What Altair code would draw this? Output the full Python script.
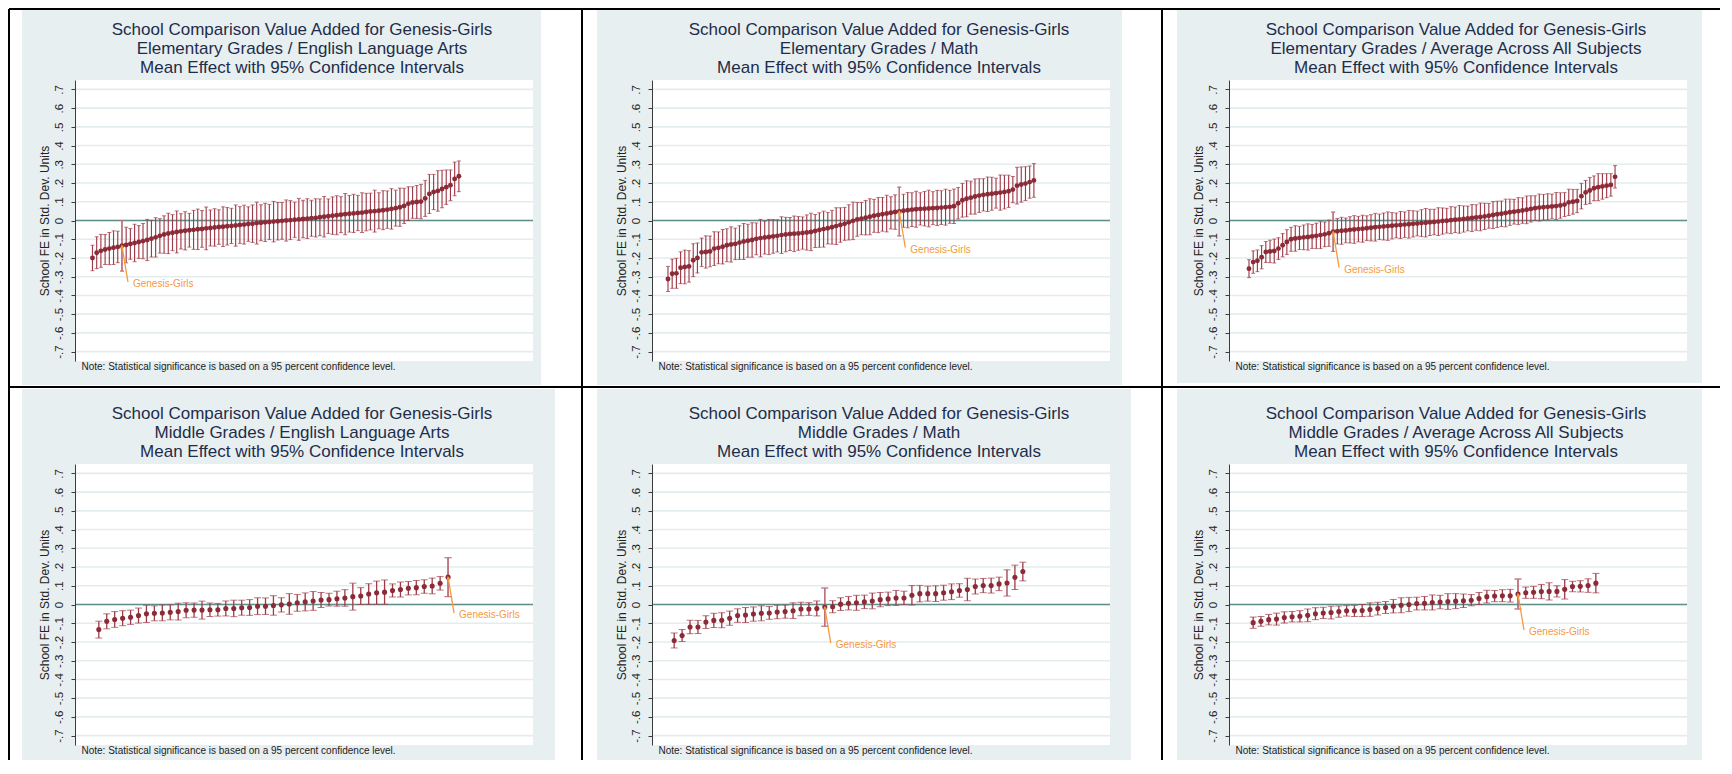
import altair as alt
import pandas as pd

FONT = "Liberation Sans"
TITLE_TOP = "School Comparison Value Added for Genesis-Girls"
SUBTITLES = [
    "Elementary Grades / English Language Arts",
    "Elementary Grades / Math",
    "Elementary Grades / Average Across All Subjects",
    "Middle Grades / English Language Arts",
    "Middle Grades / Math",
    "Middle Grades / Average Across All Subjects",
]
TITLE_BOTTOM = "Mean Effect with 95% Confidence Intervals"
NOTE = "Note: Statistical significance is based on a 95 percent confidence level."
Y_TITLE = "School FE in Std. Dev. Units"
LABEL = "Genesis-Girls"
Y_TICKS = [round(k / 10, 1) for k in range(-7, 8)]

# ---------------- data ----------------
elem_ela_mean = [
    -0.200, -0.172, -0.162, -0.155, -0.150, -0.145, -0.141, -0.135, -0.131, -0.125,
    -0.120, -0.115, -0.110, -0.104, -0.097, -0.090, -0.082, -0.075, -0.069, -0.065,
    -0.061, -0.058, -0.055, -0.052, -0.050, -0.047, -0.045, -0.042, -0.040, -0.037,
    -0.035, -0.033, -0.031, -0.029, -0.027, -0.024, -0.022, -0.019, -0.017, -0.014,
    -0.012, -0.010, -0.008, -0.006, -0.004, -0.002, 0.000, 0.002, 0.004, 0.006,
    0.008, 0.010, 0.012, 0.014, 0.017, 0.020, 0.023, 0.026, 0.028, 0.031,
    0.034, 0.036, 0.038, 0.040, 0.042, 0.045, 0.048, 0.050, 0.052, 0.055,
    0.058, 0.062, 0.066, 0.071, 0.078, 0.090, 0.096, 0.099, 0.101, 0.118,
    0.142, 0.152, 0.158, 0.168, 0.178, 0.188, 0.222, 0.236]
elem_ela_hw = [
    0.068, 0.085, 0.088, 0.080, 0.086, 0.090, 0.084, 0.135, 0.095, 0.082,
    0.100, 0.088, 0.094, 0.110, 0.098, 0.105, 0.092, 0.100, 0.108, 0.096,
    0.112, 0.094, 0.102, 0.090, 0.104, 0.108, 0.098, 0.114, 0.096, 0.100,
    0.092, 0.106, 0.100, 0.094, 0.110, 0.098, 0.104, 0.092, 0.100, 0.112,
    0.096, 0.102, 0.094, 0.108, 0.100, 0.098, 0.110, 0.104, 0.094, 0.112,
    0.100, 0.106, 0.096, 0.102, 0.098, 0.108, 0.092, 0.100, 0.104, 0.096,
    0.110, 0.098, 0.102, 0.094, 0.106, 0.100, 0.098, 0.112, 0.096, 0.104,
    0.100, 0.108, 0.096, 0.102, 0.094, 0.090, 0.084, 0.088, 0.092, 0.096,
    0.104, 0.094, 0.108, 0.100, 0.092, 0.082, 0.090, 0.082]

elem_math_mean = [
    -0.312, -0.284, -0.282, -0.252, -0.248, -0.245, -0.212, -0.200, -0.170, -0.168,
    -0.165, -0.150, -0.146, -0.140, -0.132, -0.128, -0.125, -0.118, -0.112, -0.108,
    -0.104, -0.098, -0.094, -0.091, -0.088, -0.085, -0.082, -0.078, -0.075, -0.072,
    -0.071, -0.069, -0.067, -0.064, -0.061, -0.056, -0.051, -0.046, -0.041, -0.036,
    -0.030, -0.024, -0.018, -0.010, -0.002, 0.006, 0.010, 0.015, 0.020, 0.025,
    0.029, 0.033, 0.037, 0.041, 0.045, 0.048, 0.052, 0.055, 0.058, 0.060,
    0.062, 0.063, 0.064, 0.066, 0.067, 0.069, 0.071, 0.073, 0.076, 0.092,
    0.108, 0.116, 0.122, 0.128, 0.133, 0.137, 0.140, 0.143, 0.146, 0.149,
    0.152, 0.156, 0.165, 0.186, 0.192, 0.197, 0.205, 0.214]
elem_math_hw = [
    0.067, 0.078, 0.080, 0.085, 0.090, 0.084, 0.088, 0.080, 0.076, 0.086,
    0.082, 0.090, 0.085, 0.092, 0.088, 0.094, 0.084, 0.090, 0.096, 0.088,
    0.092, 0.085, 0.100, 0.088, 0.094, 0.090, 0.086, 0.098, 0.092, 0.088,
    0.095, 0.090, 0.086, 0.094, 0.100, 0.088, 0.092, 0.096, 0.084, 0.090,
    0.098, 0.092, 0.088, 0.094, 0.100, 0.090, 0.086, 0.092, 0.096, 0.088,
    0.094, 0.090, 0.098, 0.086, 0.092, 0.130, 0.088, 0.094, 0.090, 0.096,
    0.086, 0.092, 0.098, 0.088, 0.094, 0.090, 0.096, 0.088, 0.092, 0.084,
    0.090, 0.096, 0.088, 0.094, 0.090, 0.086, 0.092, 0.088, 0.080, 0.094,
    0.090, 0.086, 0.070, 0.098, 0.094, 0.090, 0.086, 0.090]

elem_avg_mean = [
    -0.257, -0.222, -0.215, -0.196, -0.168, -0.165, -0.163, -0.150, -0.132, -0.115,
    -0.100, -0.096, -0.093, -0.090, -0.088, -0.085, -0.082, -0.078, -0.074, -0.068,
    -0.060, -0.057, -0.055, -0.053, -0.050, -0.048, -0.046, -0.044, -0.041, -0.039,
    -0.036, -0.034, -0.032, -0.030, -0.028, -0.026, -0.024, -0.022, -0.020, -0.018,
    -0.016, -0.014, -0.012, -0.010, -0.008, -0.006, -0.003, -0.001, 0.002, 0.004,
    0.006, 0.008, 0.011, 0.013, 0.016, 0.019, 0.022, 0.025, 0.029, 0.033,
    0.036, 0.040, 0.044, 0.047, 0.050, 0.053, 0.057, 0.062, 0.066, 0.069,
    0.071, 0.073, 0.075, 0.077, 0.080, 0.085, 0.097, 0.100, 0.104, 0.130,
    0.150, 0.160, 0.172, 0.178, 0.182, 0.186, 0.190, 0.233]
elem_avg_hw = [
    0.048, 0.060, 0.058, 0.062, 0.056, 0.060, 0.064, 0.058, 0.062, 0.066,
    0.064, 0.068, 0.062, 0.066, 0.070, 0.064, 0.068, 0.072, 0.066, 0.070,
    0.105, 0.068, 0.072, 0.066, 0.070, 0.074, 0.068, 0.072, 0.066, 0.070,
    0.074, 0.068, 0.072, 0.076, 0.070, 0.066, 0.072, 0.068, 0.074, 0.070,
    0.066, 0.072, 0.076, 0.070, 0.068, 0.074, 0.070, 0.066, 0.072, 0.068,
    0.074, 0.070, 0.066, 0.072, 0.068, 0.074, 0.070, 0.066, 0.072, 0.070,
    0.068, 0.074, 0.070, 0.066, 0.072, 0.068, 0.074, 0.070, 0.066, 0.072,
    0.068, 0.070, 0.066, 0.072, 0.068, 0.064, 0.070, 0.066, 0.062, 0.068,
    0.064, 0.070, 0.066, 0.072, 0.068, 0.064, 0.060, 0.060]

mid_ela_mean = [
    -0.134, -0.090, -0.080, -0.073, -0.068, -0.059, -0.050, -0.047, -0.045, -0.042,
    -0.038, -0.031, -0.030, -0.030, -0.028, -0.028, -0.021, -0.021, -0.017, -0.016,
    -0.009, -0.009, -0.005, -0.002, 0.003, 0.009, 0.014, 0.019, 0.024, 0.026,
    0.031, 0.035, 0.042, 0.045, 0.056, 0.063, 0.066, 0.075, 0.080, 0.087,
    0.090, 0.096, 0.099, 0.113, 0.146]
mid_ela_hw = [
    0.045, 0.040, 0.042, 0.040, 0.038, 0.040, 0.046, 0.040, 0.042, 0.040,
    0.045, 0.040, 0.038, 0.048, 0.036, 0.034, 0.040, 0.044, 0.040, 0.042,
    0.045, 0.044, 0.052, 0.038, 0.055, 0.045, 0.048, 0.050, 0.040, 0.034,
    0.040, 0.044, 0.072, 0.045, 0.055, 0.062, 0.065, 0.035, 0.040, 0.036,
    0.038, 0.036, 0.042, 0.036, 0.104]

mid_math_mean = [
    -0.192, -0.166, -0.120, -0.120, -0.094, -0.085, -0.084, -0.073, -0.059, -0.056,
    -0.051, -0.047, -0.045, -0.040, -0.038, -0.033, -0.024, -0.024, -0.021, -0.014,
    -0.012, 0.002, 0.007, 0.009, 0.014, 0.019, 0.026, 0.030, 0.035, 0.035,
    0.049, 0.058, 0.058, 0.058, 0.063, 0.068, 0.075, 0.080, 0.096, 0.101,
    0.101, 0.110, 0.115, 0.145, 0.176]
mid_math_hw = [
    0.040, 0.032, 0.036, 0.035, 0.034, 0.038, 0.040, 0.038, 0.036, 0.040,
    0.038, 0.040, 0.034, 0.036, 0.035, 0.042, 0.036, 0.034, 0.040, 0.102,
    0.032, 0.034, 0.036, 0.040, 0.036, 0.042, 0.038, 0.036, 0.040, 0.036,
    0.052, 0.044, 0.040, 0.042, 0.040, 0.042, 0.036, 0.060, 0.040, 0.038,
    0.040, 0.036, 0.070, 0.065, 0.050]

mid_avg_mean = [
    -0.097, -0.090, -0.081, -0.078, -0.069, -0.065, -0.063, -0.058, -0.049, -0.045,
    -0.043, -0.038, -0.034, -0.034, -0.032, -0.027, -0.022, -0.016, -0.009, -0.004,
    0.000, 0.005, 0.007, 0.011, 0.013, 0.016, 0.018, 0.020, 0.023, 0.032,
    0.042, 0.045, 0.047, 0.047, 0.056, 0.063, 0.065, 0.069, 0.070, 0.070,
    0.081, 0.096, 0.097, 0.101, 0.114]
mid_avg_hw = [
    0.030, 0.026, 0.028, 0.032, 0.030, 0.028, 0.030, 0.034, 0.032, 0.030,
    0.034, 0.030, 0.028, 0.030, 0.032, 0.036, 0.034, 0.032, 0.036, 0.040,
    0.038, 0.034, 0.036, 0.040, 0.036, 0.042, 0.040, 0.036, 0.030, 0.032,
    0.034, 0.030, 0.032, 0.034, 0.080, 0.030, 0.032, 0.038, 0.046, 0.030,
    0.052, 0.028, 0.030, 0.036, 0.052]

MEANS = [elem_ela_mean, elem_math_mean, elem_avg_mean, mid_ela_mean, mid_math_mean, mid_avg_mean]
HWS = [elem_ela_hw, elem_math_hw, elem_avg_hw, mid_ela_hw, mid_math_hw, mid_avg_hw]
GENESIS_INDEX = [7, 55, 20, 44, 19, 34]

# ---------------- layout / style ----------------
W, H = 458, 281
COL_X = [75, 652, 1229]
ROW_Y = [80, 464]
CS = COL_X[1] - COL_X[0] - W
RS = ROW_Y[1] - ROW_Y[0] - H
X_DOMAINS = [(-4.15, 104.6), (-3.8, 105.1), (-4.75, 104.1), (-3.0, 54.7), (-2.8, 55.0), (-3.1, 55.7)]
PANEL_BOX = [(22, 10, 541, 385), (597, 10, 1122, 385), (1177, 10, 1702, 383),
             (22, 389, 555, 760), (597, 389, 1131, 760), (1177, 389, 1702, 760)]
TITLE_TOP_Y = [22, 406]
H_LINES = [(9, 9, 1720), (387, 9, 1720)]
V_LINES = [(9, 9, 760), (582, 9, 760), (1162, 9, 760)]

PANEL_BG = "#e8eff1"
GRID = "#e3ecee"
TEAL = "#5f8f8b"
PT = "#8b2b37"
CI = "#9e3b48"
GEN_CI = "#c07a84"
ORANGE = "#f59a3c"
TITLE_C = "#1e2d4a"
TXT = "#222222"
AXIS_C = "#3c3c3c"

ONE = pd.DataFrame({"a": [1]})


def panel(k):
    mean, hw, gi = MEANS[k], HWS[k], GENESIS_INDEX[k]
    ox, oy = COL_X[k % 3], ROW_Y[k // 3]
    elem = k < 3
    cap = 4 if elem else 7
    psize = 24 if elem else 26
    ciw = 1.15 if elem else 1.3
    df = pd.DataFrame({
        "idx": list(range(len(mean))),
        "v": mean,
        "lo": [m - h for m, h in zip(mean, hw)],
        "hi": [m + h for m, h in zip(mean, hw)],
    })
    gdf = df.iloc[[gi]]

    xs = alt.Scale(domain=list(X_DOMAINS[k]), nice=False, zero=False)
    ys = alt.Scale(domain=[-0.75, 0.75], nice=False, zero=False)
    yaxis = alt.Axis(
        values=Y_TICKS,
        labelExpr="datum.value == 0 ? '0' : (datum.value < 0 ? '-' : '') + '.' + round(abs(datum.value) * 10)",
        labelAngle=270, labelAlign="center", labelBaseline="alphabetic", labelPadding=9,
        labelFont=FONT, labelFontSize=11.5, labelColor=TXT, labelOverlap=False,
        tickSize=4, tickColor=AXIS_C, tickWidth=1, domainColor=AXIS_C, domainWidth=1, grid=False,
        title=Y_TITLE, titleFont=FONT, titleFontSize=12, titleFontWeight="normal", titleColor=TXT,
        titleAngle=270, titleAlign="center", titleBaseline="middle", titleX=-31, titleY=H / 2,
        zindex=1)
    xaxis = alt.Axis(
        labels=False, ticks=False, domain=False, grid=False,
        title=NOTE, titleFont=FONT, titleFontSize=10, titleFontWeight="normal", titleColor=TXT,
        titleAngle=0, titleAlign="left", titleBaseline="middle", titleX=6, titleY=5, zindex=1)

    def X(f):
        return alt.X(f, type="quantitative", scale=xs, axis=xaxis, title=NOTE)

    def Y(f):
        return alt.Y(f, type="quantitative", scale=ys, axis=yaxis, title=Y_TITLE)

    layers = []
    # panel background and plot region
    x1, y1, x2, y2 = PANEL_BOX[k]
    layers.append(alt.Chart(ONE).mark_rect(color=PANEL_BG, strokeWidth=0).encode(
        x=alt.value(x1 - ox), x2=alt.value(x2 - ox), y=alt.value(y1 - oy), y2=alt.value(y2 - oy)))
    layers.append(alt.Chart(ONE).mark_rect(color="white", strokeWidth=0).encode(
        x=alt.value(0), x2=alt.value(W), y=alt.value(0), y2=alt.value(H)))
    # three-line panel title
    layers.append(alt.Chart(ONE).mark_text(
        text=[TITLE_TOP, SUBTITLES[k], TITLE_BOTTOM], align="center", baseline="top",
        fontSize=17, lineHeight=19, font=FONT, color=TITLE_C).encode(
        x=alt.value(W / 2 - 2), y=alt.value(TITLE_TOP_Y[k // 3] - oy)))
    if k == 0:
        for (yy, xa, xb) in H_LINES:
            layers.append(alt.Chart(ONE).mark_rule(color="black", strokeWidth=2).encode(
                y=alt.value(yy - oy), x=alt.value(xa - ox), x2=alt.value(xb - ox)))
        for (xx, ya, yb) in V_LINES:
            layers.append(alt.Chart(ONE).mark_rule(color="black", strokeWidth=2).encode(
                x=alt.value(xx - ox), y=alt.value(ya - oy), y2=alt.value(yb - oy)))

    layers.append(alt.Chart(pd.DataFrame({"t": Y_TICKS})).mark_rule(color=GRID, strokeWidth=1.6).encode(y=Y("t")))
    layers.append(alt.Chart(pd.DataFrame({"t": [0.0]})).mark_rule(color=TEAL, strokeWidth=1.5).encode(y=Y("t")))

    base = alt.Chart(df)
    layers.append(base.mark_rule(color=CI, strokeWidth=ciw).encode(x=X("idx"), y=Y("lo"), y2="hi"))
    layers.append(base.mark_tick(orient="horizontal", size=cap, thickness=1, color=CI).encode(x=X("idx"), y=Y("lo")))
    layers.append(base.mark_tick(orient="horizontal", size=cap, thickness=1, color=CI).encode(x=X("idx"), y=Y("hi")))
    g = alt.Chart(gdf)
    layers.append(g.mark_rule(color=GEN_CI, strokeWidth=1.2).encode(x=X("idx"), y=Y("lo"), y2="hi"))
    layers.append(g.mark_tick(orient="horizontal", size=cap, thickness=1, color=GEN_CI).encode(x=X("idx"), y=Y("lo")))
    layers.append(g.mark_tick(orient="horizontal", size=cap, thickness=1, color=GEN_CI).encode(x=X("idx"), y=Y("hi")))
    layers.append(base.mark_circle(size=psize, opacity=1, color=PT).encode(x=X("idx"), y=Y("v")))

    # Genesis-Girls annotation
    layers.append(g.mark_rule(color=ORANGE, strokeWidth=1.3, x2Offset=6, y2Offset=36).encode(
        x=X("idx"), y=Y("v"), x2="idx", y2="v"))
    layers.append(g.mark_point(shape="M-0.5,0.9L0,0L0.5,0.9", filled=False, size=36, strokeWidth=1.2,
                               color=ORANGE, angle=351, opacity=1).encode(x=X("idx"), y=Y("v")))
    layers.append(g.mark_text(text=LABEL, align="left", baseline="middle", dx=11, dy=38, fontSize=10,
                              font=FONT, color=ORANGE).encode(x=X("idx"), y=Y("v")))

    return alt.layer(*layers).properties(width=W, height=H)


panels = [panel(k) for k in range(6)]
chart = alt.concat(*panels, columns=3, spacing={"row": RS, "column": CS}, bounds="flush").configure_view(
    strokeWidth=0).properties(padding=0, background="white")

chart.save("out.html", embed_options={"renderer": "svg", "actions": False})
